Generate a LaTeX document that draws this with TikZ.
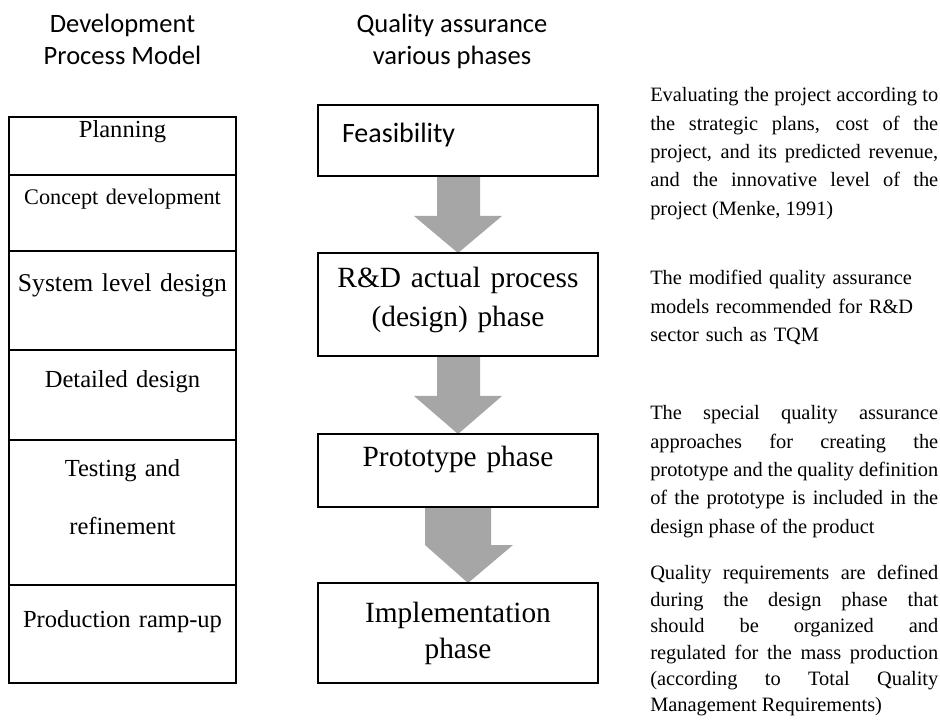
\documentclass[tikz,border=0pt]{standalone}
\usepackage{fontspec}
\setmainfont{Liberation Serif}
\newfontfamily\headfont{Carlito}
\usetikzlibrary{positioning,calc,backgrounds}
\definecolor{arrowgray}{RGB}{166,166,166}
\newcommand{\notefont}{\fontsize{15.3pt}{21.2pt}\selectfont\tolerance=9999\hyphenpenalty=10000\relax}

\tikzset{
  cell/.style={draw, line width=1.5pt, inner sep=0pt, outer sep=0pt, text width=170.25pt, align=center, font=\fontsize{18.4pt}{22pt}\selectfont},
  phase/.style={draw, line width=0.8pt, inner sep=0pt, outer sep=0pt, text width=210pt, align=center, font=\fontsize{22pt}{28pt}\selectfont},
  note/.style={anchor=base west, inner sep=0pt, text width=216pt, align=justify, font=\notefont},
  head/.style={anchor=base, inner sep=0pt, align=center, font=\headfont\fontsize{19.9pt}{24pt}\selectfont}
}

\begin{document}
\begin{tikzpicture}[x=0.75pt,y=-0.75pt]
  \useasboundingbox (0,0) rectangle (940,720);

  \node[head] (devhead) at (122.5,65) {Development\\Process Model};
  \node[head] (qahead) at (452,65) {Quality assurance\\various phases};

  % development process model
  \node[cell, anchor=north, text height=15.75pt, text depth=27.75pt] (plan) at (122.5,117) {Planning};
  \node[cell, below=0pt of plan, text height=22.5pt, text depth=34.5pt, font=\fontsize{16.7pt}{20pt}\selectfont] (concept) {Concept development};
  \node[cell, below=0pt of concept, text height=30.75pt, text depth=43.5pt, font=\fontsize{19.2pt}{23pt}\selectfont] (system) {System level design};
  \node[cell, below=0pt of system, text height=28.5pt, text depth=39pt] (detail) {Detailed design};
  \node[cell, below=0pt of detail, text height=27.75pt, text depth=81pt, font=\fontsize{18.4pt}{43.5pt}\selectfont] (test) {Testing and\\refinement};
  \node[cell, below=0pt of test, text height=31.5pt, text depth=42pt] (prod) {Production ramp-up};

  % quality assurance phases
  \node[phase, anchor=north, align=left, text height=28.5pt, text depth=24.75pt, font=\headfont\fontsize{21pt}{26pt}\selectfont] (feas) at (458,105) {\hspace*{18pt}Feasibility};
  \node[phase, below=57.75pt of feas, text height=26.25pt, text depth=51pt, font=\fontsize{22pt}{29.25pt}\selectfont] (rnd) {R\&D actual process\\(design) phase};
  \node[phase, below=58.5pt of rnd, text height=24.75pt, text depth=30pt] (proto) {Prototype phase};
  \node[phase, below=57pt of proto, text height=29.25pt, text depth=45.75pt, font=\fontsize{22pt}{27pt}\selectfont] (impl) {Implementation\\phase};

  \begin{scope}[on background layer]
    \foreach \a/\b in {feas/rnd, rnd/proto}
      \fill[arrowgray] ($(\a.south)+(-21,0)$) -- ($(\a.south)+(22,0)$) -- ($(\a.south)+(22,40)$)
        -- ($(\a.south)+(44,40)$) -- (\b.north) -- ($(\a.south)+(-44,40)$) -- ($(\a.south)+(-21,40)$) -- cycle;
    \fill[arrowgray] ($(proto.south)+(-33,0)$) -- ($(proto.south)+(33,0)$) -- ($(proto.south)+(33,38)$)
      -- ($(proto.south)+(55,38)$) -- ($(impl.north)+(10,0)$) -- ($(proto.south)+(-33,38)$) -- cycle;
  \end{scope}

  % notes
  \node[note] (note1) at (650,102) {Evaluating the project according to\linebreak the strategic plans, cost of the\linebreak project, and its predicted revenue,\linebreak and the innovative level of the\linebreak project (Menke, 1991)};
  \node[note, align=left] (note2) at (650,285) {The modified quality assurance\\models recommended for R\&D\\sector such as TQM};
  \node[note] (note3) at (650,420) {The special quality assurance\linebreak approaches for creating the\linebreak prototype and the quality definition\linebreak of the prototype is included in the\linebreak design phase of the product};
  \node[note, font=\notefont\fontsize{15.3pt}{19.8pt}\selectfont] (note4) at (650,580) {Quality requirements are defined\linebreak during the design phase that\linebreak should be organized and\linebreak regulated for the mass production\linebreak (according to Total Quality\linebreak Management Requirements)};
\end{tikzpicture}
\end{document}
